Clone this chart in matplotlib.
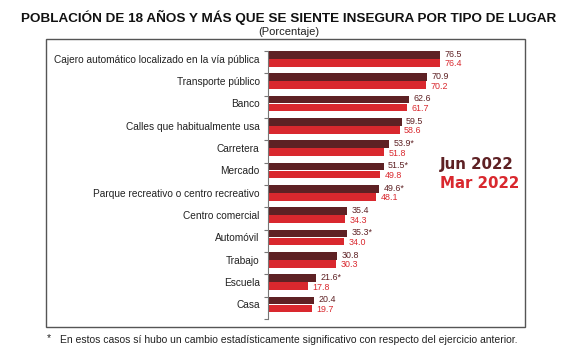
import matplotlib

matplotlib.use("Agg")
import matplotlib.pyplot as plt
import numpy as np
from matplotlib.patches import Rectangle

plt.rcParams["font.family"] = ["Liberation Sans", "DejaVu Sans"]

categorias = [
    "Cajero automático localizado en la vía pública",
    "Transporte público",
    "Banco",
    "Calles que habitualmente usa",
    "Carretera",
    "Mercado",
    "Parque recreativo o centro recreativo",
    "Centro comercial",
    "Automóvil",
    "Trabajo",
    "Escuela",
    "Casa",
]
jun_2022 = [76.5, 70.9, 62.6, 59.5, 53.9, 51.5, 49.6, 35.4, 35.3, 30.8, 21.6, 20.4]
mar_2022 = [76.4, 70.2, 61.7, 58.6, 51.8, 49.8, 48.1, 34.3, 34.0, 30.3, 17.8, 19.7]
significativo = [False, False, False, False, True, True, True, False, True, False, True, False]

c_jun = "#5e2124"
c_mar = "#d9282e"

fig = plt.figure(figsize=(5.77, 3.54), dpi=100)
W, H = 577, 354

# marco exterior
fig.patches.append(Rectangle((46 / W, 1 - 327 / H), (525 - 46) / W, (327 - 39) / H,
                             transform=fig.transFigure, fill=False,
                             edgecolor="#555555", linewidth=1.0))

ax = fig.add_axes([268 / W, 1 - 319 / H, (525 - 268) / W, (319 - 51) / H])
n = len(categorias)
y = np.arange(n)
h = 0.34
top = y - 0.5
y_jun = top + h / 2
y_mar = top + h + 0.02 + h / 2

ax.barh(y_jun, jun_2022, height=h, color=c_jun, edgecolor="none")
ax.barh(y_mar, mar_2022, height=h, color=c_mar, edgecolor="none")

for i in range(n):
    lab = f"{jun_2022[i]:.1f}" + ("*" if significativo[i] else "")
    ax.text(jun_2022[i] + 2.0, y_jun[i] - 0.03, lab, va="center", ha="left",
            fontsize=6.4, color=c_jun)
    ax.text(mar_2022[i] + 2.0, y_mar[i] + 0.04, f"{mar_2022[i]:.1f}", va="center",
            ha="left", fontsize=6.4, color=c_mar)

ax.set_xlim(0, 257 / 2.245)
ax.set_ylim(n - 0.5, -0.5)
ax.set_yticks(top + h + 0.01)
ax.set_yticklabels(categorias, fontsize=7.3, color="#222222")
ax.tick_params(axis="y", length=0, pad=6)
ax.set_yticks(np.arange(n + 1) - 0.5, minor=True)
ax.tick_params(axis="y", which="minor", length=3, color="#777777", width=0.8)
ax.set_xticks([])
for s in ["top", "right", "bottom"]:
    ax.spines[s].set_visible(False)
ax.spines["left"].set_color("#777777")
ax.spines["left"].set_linewidth(0.8)

fig.text(289 / W, 1 - 17 / H, "POBLACIÓN DE 18 AÑOS Y MÁS QUE SE SIENTE INSEGURA POR TIPO DE LUGAR",
         ha="center", va="center", fontsize=9.7, fontweight="bold", color="#111111")
fig.text(289 / W, 1 - 32 / H, "(Porcentaje)", ha="center", va="center",
         fontsize=8.0, color="#222222")

fig.text(440 / W, 1 - 165 / H, "Jun 2022", ha="left", va="center", family="DejaVu Sans",
         fontsize=10.8, fontweight="bold", color=c_jun)
fig.text(440 / W, 1 - 184 / H, "Mar 2022", ha="left", va="center", family="DejaVu Sans",
         fontsize=10.8, fontweight="bold", color=c_mar)

fig.text(47 / W, 1 - 338 / H, "*", ha="left", va="center", fontsize=7.5, color="#222222")
fig.text(60 / W, 1 - 340 / H,
         "En estos casos sí hubo un cambio estadísticamente significativo con respecto del ejercicio anterior.",
         ha="left", va="center", fontsize=7.5, color="#222222")

fig.savefig("out.png", dpi=100)
